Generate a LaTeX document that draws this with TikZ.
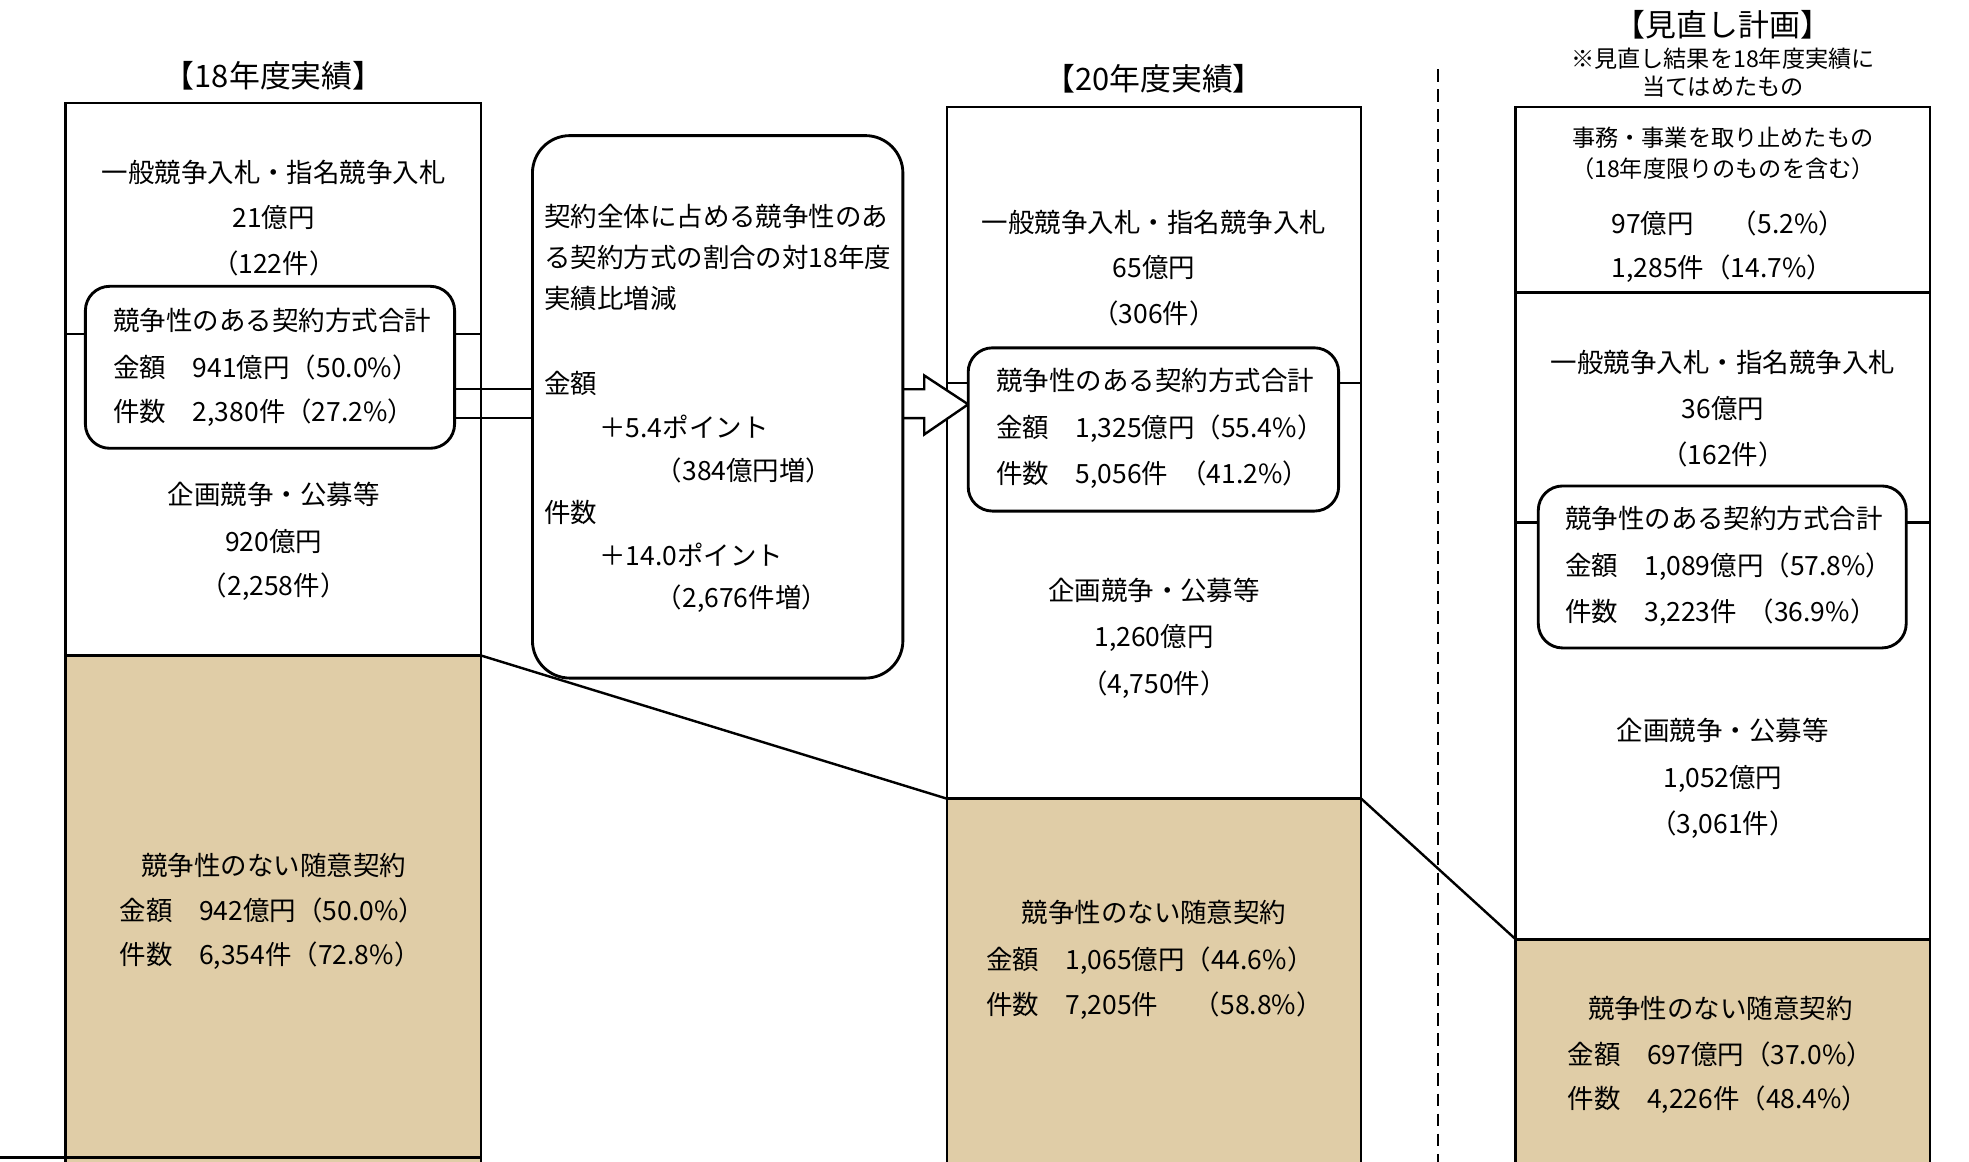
\documentclass[tikz,border=0pt]{standalone}
\usepackage{fontspec}
\setmainfont{Noto Sans CJK JP}
\usetikzlibrary{calc}
\definecolor{tanfill}{RGB}{224,205,167}
\tikzstyle{frame} = [draw=black, line width=1.1pt]
\tikzstyle{inbox} = [draw=black, line width=1.3pt, fill=white, rounded corners=11pt]
\tikzstyle{txt} = [inner sep=0pt, font=\fontsize{12}{14}\selectfont]
\tikzstyle{lft} = [txt, anchor=west]
\tikzstyle{head} = [inner sep=0pt, font=\fontsize{14}{16}\selectfont]
\tikzstyle{small} = [inner sep=0pt, font=\fontsize{10.5}{12}\selectfont]
\newcommand{\row}[4]{
\node[#3] (#1) at (#2) {#4};
}

\begin{document}
\begin{tikzpicture}[x=0.02cm, y=-0.02cm]
		\useasboundingbox (0,0) rectangle (1568,925);
		
		% Coordinates
		\coordinate (A1) at (52,82);
		\coordinate (S1) at (52,522);
		\coordinate (S1') at (383,522);
		\coordinate (A2) at (754,85);
		\coordinate (S2) at (754,636);
		\coordinate (S2') at (1084,636);
		\coordinate (A3) at (1207,85);
		\coordinate (S3) at (1207,748);
		\coordinate (S3') at (1537,748);
		
		% Columns
		\fill[tanfill] (S1) rectangle (383,925);
		\fill[tanfill] (S2) rectangle (1084,925);
		\fill[tanfill] (S3) rectangle (1537,925);
		\draw[frame] (52,925) -- (A1) -- (383,82) -- (383,925);
		\draw[frame] (S1) -- (S1');
		\draw[frame] (754,925) -- (A2) -- (1084,85) -- (1084,925);
		\draw[frame] (S2) -- (S2');
		\draw[frame] (1207,925) -- (A3) -- (1537,85) -- (1537,925);
		\draw[frame] (1207,233) -- (1537,233);
		\draw[frame] (S3) -- (S3');
		\draw[line width=1.5pt] (0,922) -- (383,922);
		
		% Separators
		\draw[line width=1.2pt, dash pattern=on 0.2cm off 0.12cm] (1145,55) -- (1145,925);
		\draw[frame] (S1') -- (S2);
		\draw[frame] (S2') -- (S3);
		
		% Side lines
		\draw[frame] (52,266) -- (68,266);
		\draw[frame] (362,266) -- (383,266);
		\draw[frame] (754,305) -- (771,305);
		\draw[frame] (1066,305) -- (1084,305);
		\draw[frame] (1207,416) -- (1225,416);
		\draw[frame] (1518,416) -- (1537,416);
		
		% Arrow
		\draw[frame] (362,310) -- (424,310);
		\draw[frame] (362,333) -- (424,333);
		\draw[frame, fill=white, line join=miter] (719,310) -- (736,310) -- (736,299) -- (771,322) -- (736,346) -- (736,333) -- (719,333);
		
		% Boxes
		\draw[inbox, rounded corners=17pt] (424,108) rectangle (719,540);
		\draw[inbox] (68,228) rectangle (362,357);
		\draw[inbox] (771,277) rectangle (1066,407);
		\draw[inbox] (1225,387) rectangle (1518,516);
		
		% Texts
		%% 18
		\row{t1}{218,60}{head}{【18年度実績】}
		\row{a1}{218,137}{txt}{一般競争入札・指名競争入札}
		\row{a2}{218,173}{txt}{21億円}
		\row{a3}{218,210}{txt}{（122件）}
		\row{b1}{90,255}{lft}{競争性のある契約方式合計}
		\row{b2}{90,293}{lft}{金額　941億円（50.0\%）}
		\row{b3}{90,329}{lft}{件数　2,380件（27.2\%）}
		\row{c1}{218,394}{txt}{企画競争・公募等}
		\row{c2}{218,431}{txt}{920億円}
		\row{c3}{218,467}{txt}{（2,258件）}
		\row{d1}{218,689}{txt}{競争性のない随意契約}
		\row{d2}{95,725}{lft}{金額　942億円（50.0\%）}
		\row{d3}{95,761}{lft}{件数　6,354件（72.8\%）}
		%% Middle
		\row{m1}{433,172}{lft}{契約全体に占める競争性のあ}
		\row{m2}{433,205}{lft}{る契約方式の割合の対18年度}
		\row{m3}{433,238}{lft}{実績比増減}
		\row{m4}{433,305}{lft}{金額}
		\row{m5}{477,340}{lft}{＋5.4ポイント}
		\row{m6}{522,375}{lft}{（384億円増）}
		\row{m7}{433,408}{lft}{件数}
		\row{m8}{477,442}{lft}{＋14.0ポイント}
		\row{m9}{522,477}{lft}{（2,676件増）}
		%% 20
		\row{t2}{919,63}{head}{【20年度実績】}
		\row{e1}{919,177}{txt}{一般競争入札・指名競争入札}
		\row{e2}{919,213}{txt}{65億円}
		\row{e3}{919,250}{txt}{（306件）}
		\row{f1}{793,303}{lft}{競争性のある契約方式合計}
		\row{f2}{793,341}{lft}{金額　1,325億円（55.4\%）}
		\row{f3}{793,378}{lft}{件数　5,056件\hspace{0.45em}（41.2\%）}
		\row{g1}{919,470}{txt}{企画競争・公募等}
		\row{g2}{919,508}{txt}{1,260億円}
		\row{g3}{919,545}{txt}{（4,750件）}
		\row{h1}{919,727}{txt}{競争性のない随意契約}
		\row{h2}{785,765}{lft}{金額　1,065億円（44.6\%）}
		\row{h3}{785,801}{lft}{件数　7,205件\hspace{1.35em}（58.8\%）}
		%% Plan
		\row{t3}{1372,20}{head}{【見直し計画】}
		\row{t4}{1372,47}{small}{※見直し結果を18年度実績に}
		\row{t5}{1372,69}{small}{当てはめたもの}
		\row{p1}{1372,110}{small}{事務・事業を取り止めたもの}
		\row{p2}{1372,134}{small}{（18年度限りのものを含む）}
		\row{p3}{1283,178}{lft}{97億円\hspace{1.4em}（5.2\%）}
		\row{p4}{1283,214}{lft}{1,285件（14.7\%）}
		\row{q1}{1372,289}{txt}{一般競争入札・指名競争入札}
		\row{q2}{1372,325}{txt}{36億円}
		\row{q3}{1372,362}{txt}{（162件）}
		\row{r1}{1246,413}{lft}{競争性のある契約方式合計}
		\row{r2}{1246,451}{lft}{金額　1,089億円（57.8\%）}
		\row{r3}{1246,488}{lft}{件数　3,223件\hspace{0.4em}（36.9\%）}
		\row{s1}{1372,582}{txt}{企画競争・公募等}
		\row{s2}{1372,620}{txt}{1,052億円}
		\row{s3}{1372,657}{txt}{（3,061件）}
		\row{u1}{1370,803}{txt}{競争性のない随意契約}
		\row{u2}{1248,840}{lft}{金額　697億円（37.0\%）}
		\row{u3}{1248,876}{lft}{件数　4,226件（48.4\%）}
	\end{tikzpicture}
\end{document}
